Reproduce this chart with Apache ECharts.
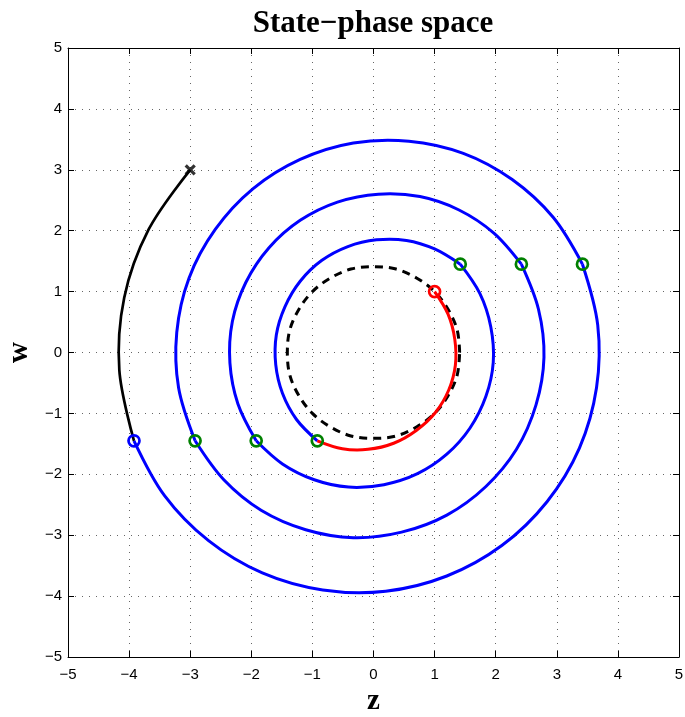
<!DOCTYPE html>
<html><head><meta charset="utf-8">
<script src="https://cdn.jsdelivr.net/npm/echarts@6/dist/echarts.min.js"></script>
<style>html,body{margin:0;padding:0;background:#fff}#c{width:685px;height:717px}</style>
</head><body><div id="c"></div>
<script>
// ---- text ----
const titleText = 'State\u2212phase space';
const xName = 'z';
const yName = 'w';
const tickValues = [-5, -4, -3, -2, -1, 0, 1, 2, 3, 4, 5];

// ---- curves: [z, w] ----
const approachArc = [[-3.00,3.00],[-3.68,2.02],[-4.08,0.90],[-4.16,-0.29],[-3.92,-1.45]];

const spiralLow1 = [[-3.92,-1.45],[-3.42,-2.35],[-2.70,-3.09],[-1.82,-3.62],[-0.83,-3.90],[0.20,-3.92],[1.20,-3.67],[2.10,-3.17],[2.84,-2.45],[3.37,-1.57],[3.65,-0.58],[3.67,0.45],[3.42,1.45]];
const spiralUp1 = [[3.42,1.45],[2.94,2.22],[2.27,2.84],[1.47,3.27],[0.58,3.47],[-0.33,3.44],[-1.20,3.17],[-1.97,2.69],[-2.59,2.02],[-3.02,1.22],[-3.22,0.33],[-3.19,-0.58],[-2.92,-1.45]];
const spiralLow2 = [[-2.92,-1.45],[-2.45,-2.09],[-1.84,-2.59],[-1.11,-2.91],[-0.33,-3.04],[0.46,-2.95],[1.20,-2.67],[1.84,-2.20],[2.34,-1.59],[2.66,-0.86],[2.79,-0.08],[2.70,0.71],[2.42,1.45]];
const spiralUp2 = [[2.42,1.45],[1.97,1.96],[1.40,2.34],[0.76,2.56],[0.08,2.60],[-0.59,2.47],[-1.20,2.17],[-1.71,1.72],[-2.09,1.15],[-2.31,0.51],[-2.35,-0.17],[-2.22,-0.84],[-1.92,-1.45]];
const spiralLow3 = [[-1.92,-1.45],[-1.49,-1.83],[-0.97,-2.09],[-0.41,-2.21],[0.17,-2.17],[0.72,-1.99],[1.20,-1.67],[1.58,-1.24],[1.84,-0.72],[1.96,-0.16],[1.92,0.42],[1.74,0.97],[1.42,1.45]];
const spiralUp3 = [[1.42,1.45],[1.00,1.70],[0.54,1.84],[0.05,1.85],[-0.42,1.74],[-0.85,1.51],[-1.20,1.17],[-1.45,0.75],[-1.59,0.29],[-1.60,-0.20],[-1.49,-0.67],[-1.26,-1.10],[-0.92,-1.45]];

const finalArc = [[-0.92,-1.45],[-0.51,-1.58],[-0.09,-1.59],[0.33,-1.49],[0.70,-1.28],[1.01,-0.99],[1.23,-0.62],[1.34,-0.21],[1.33,0.22],[1.22,0.63],[1.00,1.00]];

const targetCircle = [[1.41,0],[1.37,0.37],[1.22,0.71],[1.00,1.00],[0.71,1.22],[0.37,1.37],[0,1.41],[-0.37,1.37],[-0.71,1.22],[-1.00,1.00],[-1.22,0.71],[-1.37,0.37],[-1.41,0],[-1.37,-0.37],[-1.22,-0.71],[-1.00,-1.00],[-0.71,-1.22],[-0.37,-1.37],[0,-1.41],[0.37,-1.37],[0.71,-1.22],[1.00,-1.00],[1.22,-0.71],[1.37,-0.37],[1.41,0]];

// ---- markers ----
const switchPoints = [[1.42,1.45],[2.42,1.45],[3.42,1.45],[-0.92,-1.45],[-1.92,-1.45],[-2.92,-1.45]];
const entryPoint = [[-3.92,-1.45]];
const endPoint = [[1.00,1.00]];
const startPoint = [[-3.00,3.00]];

const fmt = v => (v < 0 ? '\u2212' + (-v) : String(v));

// a smooth curve through the read points, positioned with the axes (api.coord)
function curveSeries(data, color, width, dash) {
  return {
    type: 'custom', data: data, xAxisIndex: 0, yAxisIndex: 0, z: 2, silent: true,
    encode: { x: 0, y: 1 },
    renderItem: function (params, api) {
      if (params.dataIndex !== 0) return null;
      const pts = data.map(function (p) { return api.coord(p); });
      return {
        type: 'polyline',
        shape: { points: pts, smooth: 0.34 },
        style: { stroke: color, lineWidth: width, fill: null, lineDash: dash || null, lineCap: 'butt', lineJoin: 'round' }
      };
    }
  };
}
function ringMarker(data, color) {
  return {
    type: 'scatter', data: data, symbol: 'circle', symbolSize: 11,
    itemStyle: { color: 'rgba(255,255,255,0)', borderColor: color, borderWidth: 2.7, opacity: 1 },
    xAxisIndex: 0, yAxisIndex: 0, z: 5, silent: true
  };
}

const axisCommon = {
  type: 'value', min: -5, max: 5, interval: 1,
  axisLine: { show: true, onZero: false, lineStyle: { color: '#000', width: 1 } },
  axisTick: { show: true, inside: true, length: 6, lineStyle: { color: '#000', width: 1 } }
};

const chart = echarts.init(document.getElementById('c'), null, { renderer: 'canvas' });
chart.setOption({
  animation: false,
  backgroundColor: '#fff',
  title: {
    text: titleText, left: 373, top: 8, textAlign: 'center', padding: 0,
    textStyle: { fontFamily: 'Liberation Serif', fontWeight: 'bold', fontSize: 31, color: '#000' }
  },
  grid: { left: 68, right: 6, top: 48, bottom: 60, containLabel: false, outerBoundsMode: 'none' },
  xAxis: [
    Object.assign({}, axisCommon, {
      position: 'bottom',
      name: xName, nameLocation: 'middle', nameGap: 29,
      nameTextStyle: { fontFamily: 'Liberation Serif', fontWeight: 'bold', fontSize: 29, color: '#000' },
      axisLabel: { formatter: fmt, margin: 10, fontFamily: 'Liberation Sans', fontSize: 15, color: '#000' },
      splitLine: { show: true, lineStyle: { type: [1, 6], color: '#666', width: 1 } }
    }),
    Object.assign({}, axisCommon, {
      position: 'top', axisLabel: { show: false }, splitLine: { show: false }
    })
  ],
  yAxis: [
    Object.assign({}, axisCommon, {
      position: 'left',
      name: yName, nameLocation: 'middle', nameGap: 28, nameRotate: 90,
      nameTextStyle: { fontFamily: 'Liberation Serif', fontWeight: 'bold', fontSize: 29, color: '#000' },
      axisLabel: { formatter: fmt, margin: 6, fontFamily: 'Liberation Sans', fontSize: 15, color: '#000' },
      splitLine: { show: true, lineStyle: { type: [1, 6], color: '#666', width: 1 } }
    }),
    Object.assign({}, axisCommon, {
      position: 'right', axisLabel: { show: false }, splitLine: { show: false }
    })
  ],
  series: [
    curveSeries(targetCircle, '#000', 3, [8, 6]),
    curveSeries(approachArc, '#000', 2.7),
    curveSeries(spiralLow1, '#0000ff', 3),
    curveSeries(spiralUp1, '#0000ff', 3),
    curveSeries(spiralLow2, '#0000ff', 3),
    curveSeries(spiralUp2, '#0000ff', 3),
    curveSeries(spiralLow3, '#0000ff', 3),
    curveSeries(spiralUp3, '#0000ff', 3),
    curveSeries(finalArc, '#ff0000', 3),
    ringMarker(switchPoints, '#008000'),
    ringMarker(entryPoint, '#0000ff'),
    ringMarker(endPoint, '#ff0000'),
    {
      type: 'scatter', data: startPoint, symbol: 'path://M0,0L10,10M10,0L0,10', symbolSize: 9,
      itemStyle: { color: 'rgba(0,0,0,0)', borderColor: '#000', borderWidth: 3.2 },
      xAxisIndex: 0, yAxisIndex: 0, z: 5, silent: true
    }
  ]
});
</script>
</body></html>
